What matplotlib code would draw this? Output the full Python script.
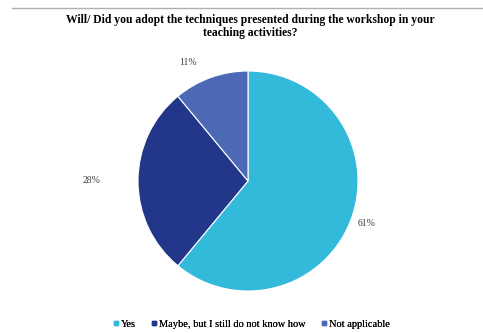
import matplotlib.pyplot as plt
import numpy as np
from matplotlib.lines import Line2D

plt.rcParams['font.family'] = ['Liberation Serif', 'DejaVu Serif']

title = "Will/ Did you adopt the techniques presented during the workshop in your\nteaching activities?"
labels = ["Yes", "Maybe, but I still do not know how", "Not applicable"]
values = [61, 28, 11]
colors = ["#33B9DA", "#22378A", "#4B69B4"]
# where each percentage label sits: distance (pie radii) and angle nudge (deg)
label_dist = [1.15, 1.42, 1.21]
label_nudge = [0, 0, 7]
# left edge of each legend entry, in pixels
legend_x = [112, 150, 320]

W, H = 483, 333
fig = plt.figure(figsize=(W/100, H/100), dpi=100, facecolor='white')

# thin grey frame line along the top
fig.add_artist(Line2D([12/W, 1], [1-8/H, 1-8/H], color='#b0b0b0', lw=1.0))

fig.text(250/W, 1-26.5/H, title, ha='center', va='center', fontsize=8.4,
         fontweight='bold', linespacing=1.05)

cx, cy, r = 248, 181, 110
ax = fig.add_axes([(cx-r)/W, (H-cy-r)/H, 2*r/W, 2*r/H])
wedges, _ = ax.pie(values, colors=colors, startangle=90, counterclock=False,
                   radius=1, wedgeprops=dict(edgecolor='white', linewidth=0.8))
ax.set_xlim(-1, 1)
ax.set_ylim(-1, 1)
ax.set_aspect('auto')
ax.axis('off')

for w, v, d, n in zip(wedges, values, label_dist, label_nudge):
    ang = np.deg2rad((w.theta1 + w.theta2) / 2 + n)
    ax.text(d*np.cos(ang), d*np.sin(ang), f"{v}%", ha='center', va='center',
            fontsize=7, color='#404040', clip_on=False)

for lab, c, lx in zip(labels, colors, legend_x):
    h = Line2D([], [], marker='s', ls='', color=c, markersize=3)
    leg = fig.legend([h], [lab], loc='center left', bbox_to_anchor=(lx/W, 1-324/H),
                     frameon=False, fontsize=7.5, handletextpad=0.1,
                     handlelength=0.8, borderpad=0, borderaxespad=0)
    fig.add_artist(leg)

fig.savefig('out.png', dpi=100, facecolor='white')
